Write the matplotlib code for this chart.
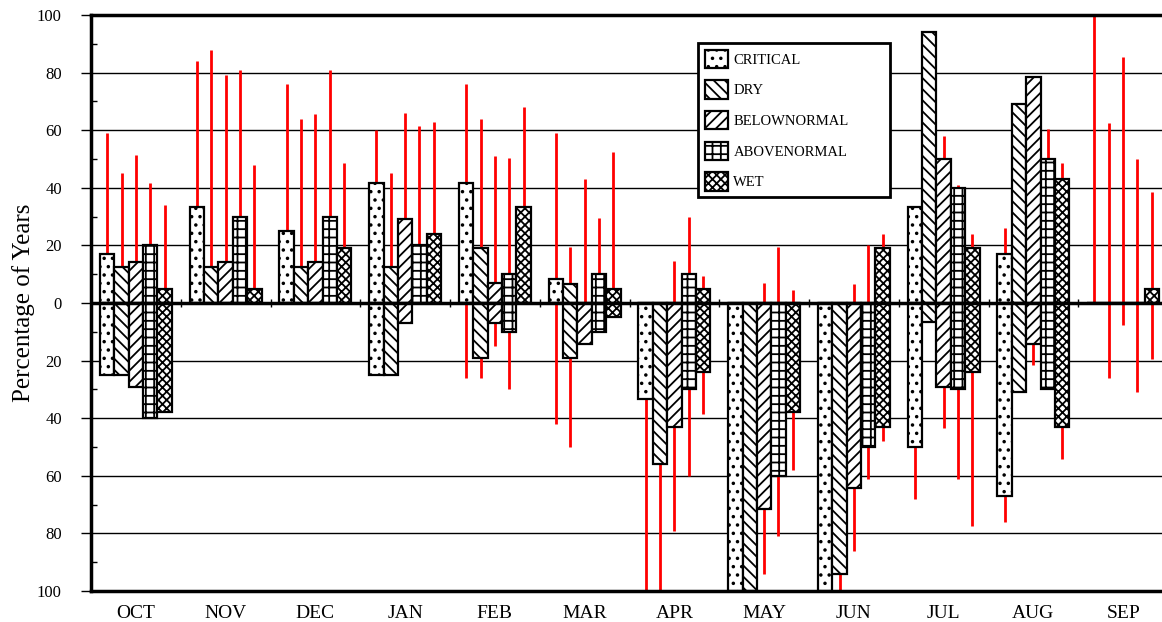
import matplotlib.pyplot as plt
import numpy as np

plt.rcParams['font.family'] = ['Liberation Serif', 'DejaVu Serif']
plt.rcParams['hatch.linewidth'] = 1.3

months = ['OCT', 'NOV', 'DEC', 'JAN', 'FEB', 'MAR', 'APR', 'MAY', 'JUN', 'JUL', 'AUG', 'SEP']
categories = ['CRITICAL', 'DRY', 'BELOWNORMAL', 'ABOVENORMAL', 'WET']

# bars above zero (percentage of years)
critical_up = [17, 33.3, 25, 41.7, 41.7, 8.5, 0, 0, 0, 33.3, 17, 0]
dry_up = [12.5, 12.5, 12.5, 12.5, 19, 6.5, 0, 0, 0, 94, 69, 0]
below_up = [14.3, 14.3, 14.3, 29, 7, 0, 0, 0, 0, 50, 78.6, 0]
above_up = [20, 30, 30, 20, 10, 10, 10, 0, 0, 40, 50, 0]
wet_up = [5, 5, 19, 24, 33.3, 5, 5, 0, 19, 19, 43, 5]

# bars below zero (plotted downward)
critical_down = [25, 0, 0, 25, 0, 0, 33.3, 100, 100, 50, 67, 0]
dry_down = [25, 0, 0, 25, 19, 19, 56, 100, 94, 6.5, 31, 0]
below_down = [29, 0, 0, 7, 7, 14.3, 43, 71.5, 64.3, 29, 14.3, 0]
above_down = [40, 0, 0, 0, 10, 10, 30, 60, 50, 30, 30, 0]
wet_down = [38, 0, 0, 0, 0, 5, 24, 38, 43, 24, 43, 0]

# red range lines (low, high)
critical_lo = [0, 0, 0, 0, -26, -42, -100, 0, 0, -68, -76, 0]
critical_hi = [59, 84, 76, 60, 76, 59, 0, 0, 0, 0, 26, 100]
dry_lo = [0, 0, 0, 0, -26, -50, -100, 0, -100, 0, 0, -26]
dry_hi = [45, 88, 64, 45, 64, 19.5, 0, 0, 0, 0, 0, 62.5]
below_lo = [0, 0, 0, 0, -15, 0, -79, -94, -86, -43.5, -21.5, -7.5]
below_hi = [51.5, 79, 65.5, 66, 51, 43, 14.5, 7, 6.5, 58, 0, 85.5]
above_lo = [0, 0, 0, 0, -30, 0, -60, -81, -61, -61, 0, -31]
above_hi = [41.5, 81, 81, 61.5, 50.5, 29.5, 30, 19.5, 20, 41, 60.5, 50]
wet_lo = [0, 0, 0, 0, 0, 0, -38.5, -58, -48, -77.5, -54, -19.5]
wet_hi = [34, 48, 48.5, 63, 68, 52.5, 9.5, 4.5, 24, 24, 48.5, 38.5]

ups = [critical_up, dry_up, below_up, above_up, wet_up]
downs = [critical_down, dry_down, below_down, above_down, wet_down]
los = [critical_lo, dry_lo, below_lo, above_lo, wet_lo]
his = [critical_hi, dry_hi, below_hi, above_hi, wet_hi]
hatches = ['..', '\\\\\\', '///', '++', 'xxxx']

fig = plt.figure(figsize=(11.62, 6.22), dpi=100)
ax = fig.add_axes([91/1162, 1-591/622, 1077/1162, 576/622])

w = 0.16
xs = np.arange(len(months))
for k in range(len(categories)):
    x = xs + (k-2)*w
    ax.vlines(x, los[k], his[k], color='red', lw=2, zorder=1.5)
    ax.bar(x, ups[k], w, color='white', edgecolor='black', lw=1.6,
           hatch=hatches[k], label=categories[k], zorder=2)
    ax.bar(x, -np.array(downs[k]), w, color='white', edgecolor='black', lw=1.6,
           hatch=hatches[k], zorder=2)

ax.axhline(0, color='black', lw=2.5, zorder=3)
for g in [-80, -60, -40, -20, 20, 40, 60, 80]:
    ax.axhline(g, color='black', lw=1, zorder=0.5)

ax.set_xlim(-0.5, 11.5)
ax.set_ylim(-100, 100)
ax.set_yticks(np.arange(-100, 101, 20))
ax.set_yticklabels([str(abs(v)) for v in range(-100, 101, 20)], fontsize=12)
ax.set_yticks(np.arange(-90, 100, 20), minor=True)
ax.tick_params(axis='y', which='major', direction='out', length=7, width=1, pad=14)
ax.tick_params(axis='y', which='minor', direction='in', length=4, width=1)
ax.set_xticks(xs)
ax.set_xticklabels(months, fontsize=14)
ax.tick_params(axis='x', length=0, pad=10)
ax.set_ylabel('Percentage of Years', fontsize=18, labelpad=1.5)

# small ticks on the zero line between months
sec = ax.secondary_xaxis(0.5)
sec.set_xticks(np.arange(0.5, 11, 1))
sec.tick_params(axis='x', direction='inout', length=6, width=1, labelbottom=False)
sec.set_xticklabels([])
sec.spines['bottom'].set_visible(False)

for s in ['top', 'left', 'bottom']:
    ax.spines[s].set_linewidth(2.5)
ax.spines['right'].set_visible(False)

leg = ax.legend(loc='upper left', bbox_to_anchor=(0.564, 0.951, 0.178, 0.0),
                mode='expand', fontsize=10.5,
                handlelength=1.55, handleheight=1.55, labelspacing=0.85,
                fancybox=False, edgecolor='black', framealpha=1,
                borderpad=0.45, handletextpad=0.4, borderaxespad=0)
leg.get_frame().set_linewidth(2)
leg.set_zorder(5)

fig.savefig('out.png', dpi=100)
